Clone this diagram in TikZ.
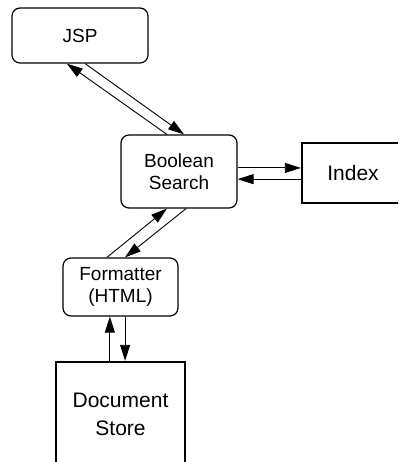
\documentclass[tikz,border=0pt]{standalone}
\usepackage{fontspec}
\setmainfont{Liberation Sans}
\usetikzlibrary{arrows.meta,calc}
\begin{document}
\begin{tikzpicture}[x=1pt,y=-1pt,
  rbox/.style={draw,rounded corners=8pt,line width=1.2pt,inner sep=0pt,align=center,font=\fontsize{19}{22}\selectfont},
  sbox/.style={draw,line width=2.4pt,inner sep=0pt,align=center,font=\fontsize{21}{28}\selectfont},
  arr/.style={line width=0.9pt,-{Triangle[length=16pt,width=10pt]}}]
\useasboundingbox (0,0) rectangle (398,462);
\begin{scope}
\clip (0,0) rectangle (398,462);
\node[rbox,minimum width=136pt,minimum height=55pt] (jsp) at (80,35.5) {JSP};
\node[rbox,minimum width=116pt,minimum height=73pt] (bool) at (179,171.5) {Boolean\\Search};
\node[sbox,minimum width=102pt,minimum height=60pt] (idx) at (353,173) {Index};
\node[rbox,minimum width=115pt,minimum height=58pt] (fmt) at (120.5,287) {Formatter\\(HTML)};
\node[sbox,minimum width=129pt,minimum height=104pt] (doc) at (120.5,414) {Document\\Store};
% JSP <-> Boolean
\coordinate (a1) at ($(jsp.south west)!0.537!(jsp.south east)$);
\coordinate (a2) at ($(bool.north west)!0.543!(bool.north east)$);
\coordinate (b1) at ($(bool.north west)!0.397!(bool.north east)$);
\coordinate (b2) at ($(jsp.south west)!0.404!(jsp.south east)$);
\draw[arr] (a1) -- (a2);
\draw[arr] (b1) -- (b2);
% Boolean <-> Index
\coordinate (h1) at ($(bool.north east)!0.452!(bool.south east)$);
\coordinate (h2) at ($(bool.north east)!0.603!(bool.south east)$);
\draw[arr] (h1) -- (h1 -| idx.west);
\draw[arr] (h2 -| idx.west) -- (h2);
% Formatter <-> Boolean
\coordinate (c1) at ($(fmt.north west)!0.383!(fmt.north east)$);
\coordinate (c2) at ($(bool.south west)!0.397!(bool.south east)$);
\coordinate (d1) at ($(bool.south west)!0.560!(bool.south east)$);
\coordinate (d2) at ($(fmt.north west)!0.539!(fmt.north east)$);
\draw[arr] (c1) -- (c2);
\draw[arr] (d1) -- (d2);
% Document Store <-> Formatter
\coordinate (v1) at ($(doc.north west)!0.419!(doc.north east)$);
\coordinate (v2) at ($(doc.north west)!0.535!(doc.north east)$);
\draw[arr] (v1) -- (v1 |- fmt.south);
\draw[arr] (v2 |- fmt.south) -- (v2);
\end{scope}
\end{tikzpicture}
\end{document}
